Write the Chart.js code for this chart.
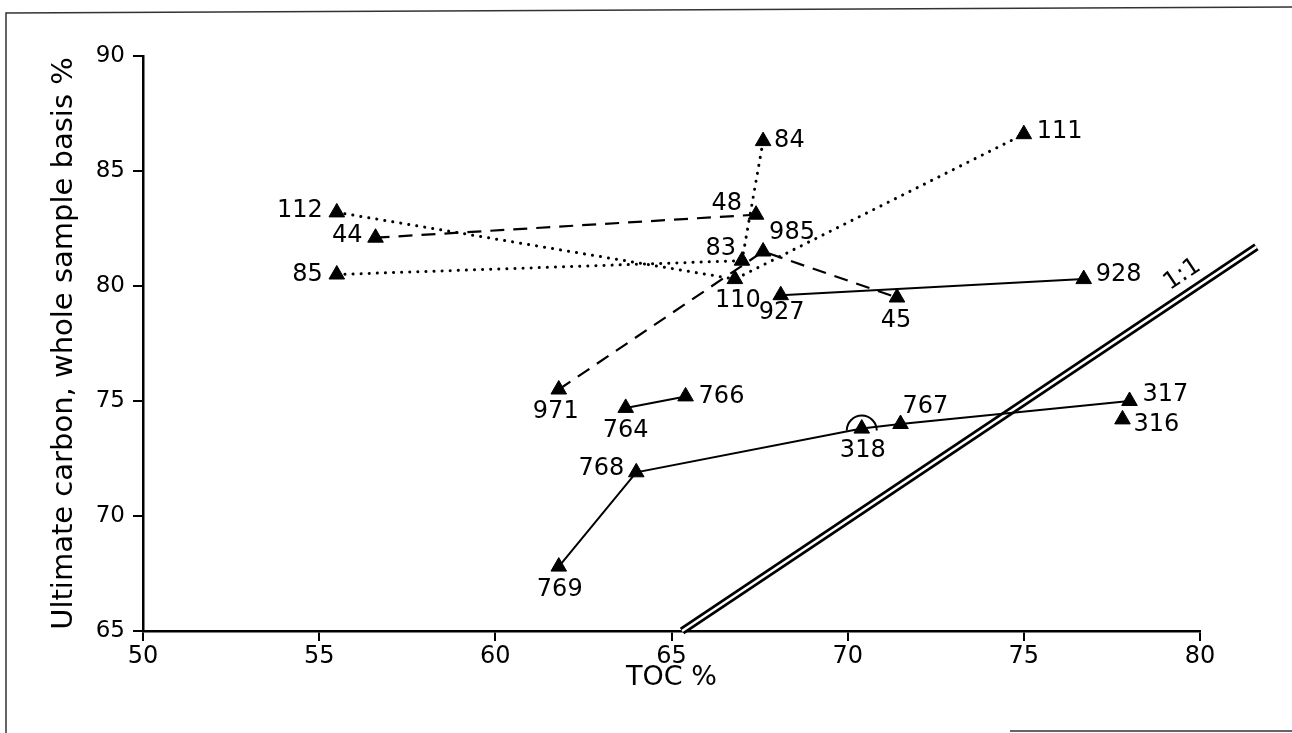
<!DOCTYPE html>
<html>
<head>
<meta charset="utf-8">
<script src="https://cdn.jsdelivr.net/npm/chart.js@4.4.1/dist/chart.umd.min.js"></script>
<style>
html, body { margin: 0; padding: 0; background: #fff; }
</style>
</head>
<body>
<canvas id="myChart" width="1292" height="733"></canvas>
<script>
// sample numbers and their values
const sampleIds = ['112', '44', '85', '84', '48', '985', '83', '110', '927', '45', '928', '111',
                   '971', '764', '766', '768', '769', '318', '767', '317', '316'];
const tocValues = [55.5, 56.6, 55.5, 67.6, 67.4, 67.6, 67.0, 66.8, 68.1, 71.4, 76.7, 75.0,
                   61.8, 63.7, 65.4, 64.0, 61.8, 70.4, 71.5, 78.0, 77.8];
const carbonValues = [83.2, 82.1, 80.5, 86.3, 83.1, 81.5, 81.1, 80.3, 79.6, 79.5, 80.3, 86.6,
                      75.5, 74.7, 75.2, 71.9, 67.8, 73.8, 74.0, 75.0, 74.2];

// which samples are joined, and how
const dottedPaths = [['112', '110', '111'], ['85', '83', '84']];
const dashedPaths = [['44', '48'], ['971', '985', '45']];
const solidPaths = [['927', '928'], ['764', '766'], ['769', '768', '318', '767', '317']];

// 1:1 line ends
const oneToOneToc = [65.3, 81.6];
const oneToOneCarbon = [65.0, 81.7];

const xTicks = [50, 55, 60, 65, 70, 75, 80];
const yTicks = [65, 70, 75, 80, 85, 90];

// label placement: [align, dx, dy] in px from the marker
const labelAnchors = [
  ['right', -14, -2], ['right', -13, -2], ['right', -14, 0], ['left', 11, 0],
  ['right', -14, -11], ['left', 6, -19], ['right', -6, -12], ['center', 3, 22],
  ['center', 1, 18], ['center', -1, 23], ['left', 12, -4], ['left', 13, -2],
  ['center', -3, 22], ['center', 0, 23], ['left', 13, 0], ['right', -12, -4],
  ['center', 1, 23], ['center', 1, 22], ['left', 2, -17], ['left', 13, -6], ['left', 11, 5]
];

const FONT = "'DejaVu Sans', sans-serif";

function pathData(path) {
  return path.map(id => {
    const i = sampleIds.indexOf(id);
    return { x: tocValues[i], y: carbonValues[i] };
  });
}

const datasets = [];

datasets.push({
  label: 'samples',
  data: sampleIds.map((id, i) => ({ x: tocValues[i], y: carbonValues[i] })),
  pointStyle: 'triangle',
  pointRadius: 9,
  backgroundColor: '#000',
  borderColor: '#000',
  borderWidth: 1,
  showLine: false,
  order: 0
});

dottedPaths.forEach(p => datasets.push({
  data: pathData(p), showLine: true, pointRadius: 0,
  borderColor: '#000', borderWidth: 3, borderDash: [0.1, 8], borderCapStyle: 'round',
  order: 3
}));
dashedPaths.forEach(p => datasets.push({
  data: pathData(p), showLine: true, pointRadius: 0,
  borderColor: '#000', borderWidth: 2.2, borderDash: [14, 9],
  order: 3
}));
solidPaths.forEach(p => datasets.push({
  data: pathData(p), showLine: true, pointRadius: 0,
  borderColor: '#000', borderWidth: 2,
  order: 3
}));

// double 1:1 line: thick black with a thin white core
const oneToOne = oneToOneToc.map((x, i) => ({ x: x, y: oneToOneCarbon[i] }));
datasets.push({ data: oneToOne, showLine: true, pointRadius: 0, borderColor: '#000', borderWidth: 8, clip: false, order: 6 });
datasets.push({ data: oneToOne, showLine: true, pointRadius: 0, borderColor: '#fff', borderWidth: 2.5, clip: false, order: 5 });

const extras = {
  id: 'extras',
  beforeDraw(chart) {
    const ctx = chart.ctx;
    ctx.save();
    ctx.strokeStyle = '#333';
    ctx.lineWidth = 1.5;
    ctx.beginPath();
    ctx.moveTo(6, 733); ctx.lineTo(6, 13); ctx.lineTo(1292, 7);
    ctx.moveTo(1010, 731); ctx.lineTo(1292, 731);
    ctx.stroke();
    ctx.restore();
  },
  afterDatasetsDraw(chart) {
    const ctx = chart.ctx;
    const pts = chart.getDatasetMeta(0).data;
    ctx.save();
    ctx.fillStyle = '#000';
    ctx.font = '24px ' + FONT;
    ctx.textBaseline = 'middle';
    sampleIds.forEach((id, i) => {
      const a = labelAnchors[i];
      ctx.textAlign = a[0];
      ctx.fillText(id, pts[i].x + a[1], pts[i].y + a[2]);
    });

    // hop over sample 318
    const p = pts[sampleIds.indexOf('318')];
    ctx.strokeStyle = '#000';
    ctx.lineWidth = 2;
    ctx.beginPath();
    ctx.arc(p.x, p.y + 2, 15, Math.PI, 0);
    ctx.stroke();

    // 1:1 label
    const xs = chart.scales.x, ys = chart.scales.y;
    const x0 = xs.getPixelForValue(oneToOneToc[0]), y0 = ys.getPixelForValue(oneToOneCarbon[0]);
    const x1 = xs.getPixelForValue(oneToOneToc[1]), y1 = ys.getPixelForValue(oneToOneCarbon[1]);
    ctx.translate(xs.getPixelForValue(79.5), ys.getPixelForValue(80.5));
    ctx.rotate(Math.atan2(y1 - y0, x1 - x0));
    ctx.textAlign = 'center';
    ctx.font = '24px ' + FONT;
    ctx.fillText('1:1', 0, 0);
    ctx.restore();
  }
};

const ctx = document.getElementById('myChart');
const chart = new Chart(ctx, {
  type: 'scatter',
  data: { datasets: datasets },
  plugins: [extras],
  options: {
    responsive: false,
    animation: false,
    layout: { padding: { top: 56, right: 92, bottom: 0, left: 0 } },
    plugins: { legend: { display: false }, tooltip: { enabled: false } },
    scales: {
      x: {
        type: 'linear', min: 50, max: 80,
        afterBuildTicks: s => { s.ticks = xTicks.map(v => ({ value: v })); },
        afterFit: s => { s.height = 102; },
        ticks: { color: '#000', font: { family: FONT, size: 24 }, padding: 1 },
        grid: { drawOnChartArea: false, tickLength: 10, color: '#000', lineWidth: 2 },
        border: { color: '#000', width: 2.5 },
        title: { display: true, text: 'TOC %', color: '#000', font: { family: FONT, size: 27 }, padding: { top: 0, bottom: 39 } }
      },
      y: {
        type: 'linear', min: 65, max: 90,
        afterBuildTicks: s => { s.ticks = yTicks.map(v => ({ value: v })); },
        afterFit: s => { s.width = 143; },
        ticks: { color: '#000', font: { family: FONT, size: 23 }, padding: 8 },
        grid: { drawOnChartArea: false, tickLength: 10, color: '#000', lineWidth: 2 },
        border: { color: '#000', width: 2.5 },
        title: { display: true, text: 'Ultimate carbon, whole sample basis %', color: '#000', font: { family: FONT, size: 29 }, padding: { top: 47, bottom: 0 } }
      }
    }
  }
});
</script>
</body>
</html>
